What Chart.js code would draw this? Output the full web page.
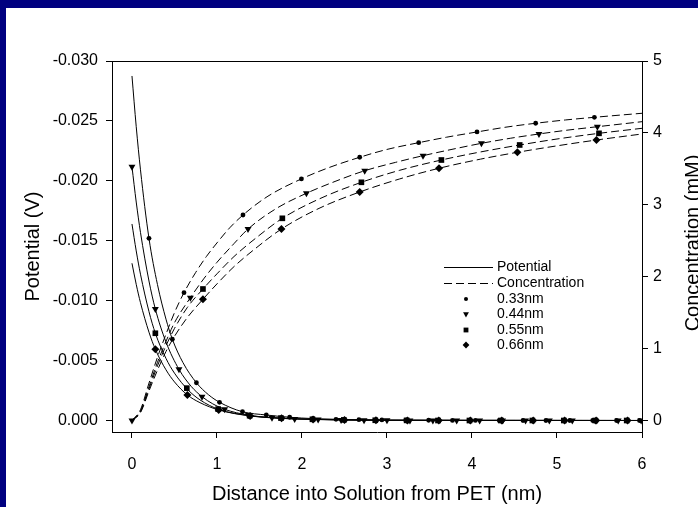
<!DOCTYPE html>
<html>
<head>
<meta charset="utf-8">
<script src="https://cdn.jsdelivr.net/npm/chart.js@4.4.1/dist/chart.umd.min.js"></script>
<style>
  html, body { margin: 0; padding: 0; background: #fff; overflow: hidden; }
  canvas { display: block; }
</style>
</head>
<body>
<canvas id="chart" width="698" height="507"></canvas>
<script>
// axis ticks
const xTicks = [0, 1, 2, 3, 4, 5, 6];
const potTicks = [-0.030, -0.025, -0.020, -0.015, -0.010, -0.005, 0];
const potTickLabels = ['-0.030', '-0.025', '-0.020', '-0.015', '-0.010', '-0.005', '0.000'];
const concTicks = [0, 1, 2, 3, 4, 5];
const sizeLabels = ['0.33nm', '0.44nm', '0.55nm', '0.66nm'];

// potential curves (V)
const potLineX33 = [0, 0.05, 0.1, 0.2, 0.3, 0.4, 0.475, 0.6, 0.758, 0.9, 1.03, 1.3, 1.58, 1.855, 2.13, 2.4, 2.7, 3.0, 4.0, 6.0];
const potLineY33 = [-0.02875, -0.02452, -0.02092, -0.0152, -0.01134, -0.00846, -0.00678, -0.00483, -0.00315, -0.00215, -0.00152, -0.00073, -0.00046, -0.00027, -0.00016, -0.0001, -0.00006, -0.00003, -0.00001, 0];
const potLineX44 = [0, 0.05, 0.1, 0.2, 0.275, 0.4, 0.553, 0.7, 0.824, 0.95, 1.09, 1.37, 1.647, 1.914, 2.2, 2.5, 3.0, 4.0, 6.0];
const potLineY44 = [-0.02118, -0.01823, -0.0157, -0.01164, -0.0093, -0.00655, -0.00427, -0.00282, -0.00199, -0.00139, -0.00093, -0.00045, -0.00023, -0.00013, -0.00008, -0.00005, -0.00002, -0.00001, 0];
const potLineX55 = [0, 0.05, 0.1, 0.2, 0.275, 0.4, 0.5, 0.66, 0.8, 1.02, 1.39, 1.76, 2.13, 2.5, 3.0, 4.0, 6.0];
const potLineY55 = [-0.0164, -0.01415, -0.01221, -0.00909, -0.00728, -0.00518, -0.00395, -0.00255, -0.00172, -0.00093, -0.0004, -0.0002, -0.0001, -0.00005, -0.00002, -0.00001, 0];
const potLineX66 = [0, 0.05, 0.1, 0.2, 0.275, 0.4, 0.5, 0.652, 0.8, 1.02, 1.39, 1.76, 2.13, 2.5, 3.0, 4.0, 6.0];
const potLineY66 = [-0.01312, -0.01136, -0.00983, -0.00737, -0.00594, -0.00423, -0.00322, -0.00213, -0.00149, -0.00088, -0.00038, -0.00018, -0.00009, -0.00004, -0.00002, -0.00001, 0];

// potential data points
const potMarkX33 = [0.2, 0.475, 0.758, 1.03, 1.3, 1.58, 1.855, 2.13, 2.4, 2.67, 2.94, 3.22, 3.49, 3.77, 4.04, 4.32, 4.6, 4.87, 5.15, 5.42, 5.7, 5.97];
const potMarkY33 = [-0.0152, -0.00678, -0.00315, -0.00152, -0.00073, -0.00046, -0.00027, -0.00016, -0.0001, -0.00007, -0.00005, -0.00003, -0.00002, -0.00001, -0.00001, 0, 0, 0, 0, 0, 0, 0];
const potMarkX44 = [0, 0.275, 0.553, 0.824, 1.09, 1.37, 1.647, 1.914, 2.19, 2.46, 2.73, 3.0, 3.27, 3.54, 3.82, 4.09, 4.36, 4.63, 4.91, 5.18, 5.45, 5.72, 5.99];
const potMarkY44 = [-0.02118, -0.0093, -0.00427, -0.00199, -0.00093, -0.00045, -0.00023, -0.00013, -0.00008, -0.00005, -0.00003, -0.00002, -0.00001, -0.00001, 0, 0, 0, 0, 0, 0, 0, 0, 0];
const potMarkX55 = [0.275, 0.645, 1.014, 1.384, 1.753, 2.123, 2.492, 2.862, 3.231, 3.6, 3.97, 4.34, 4.71, 5.08, 5.45, 5.82];
const potMarkY55 = [-0.00728, -0.0027, -0.00095, -0.0004, -0.0002, -0.0001, -0.00005, -0.00002, -0.00001, 0, 0, 0, 0, 0, 0, 0];
const potMarkX66 = [0.275, 0.652, 1.02, 1.39, 1.76, 2.13, 2.5, 2.87, 3.24, 3.61, 3.98, 4.35, 4.72, 5.09, 5.46, 5.83];
const potMarkY66 = [-0.00594, -0.00213, -0.00088, -0.00038, -0.00018, -0.00009, -0.00004, -0.00002, -0.00001, 0, 0, 0, 0, 0, 0, 0];

// concentration curves (mM)
const concLineX33 = [0, 0.1, 0.2, 0.3, 0.4, 0.5, 0.612, 0.75, 0.875, 1.0, 1.15, 1.306, 1.6, 1.993, 2.3, 2.679, 3.0, 3.373, 3.7, 4.059, 4.4, 4.749, 5.1, 5.44, 6.0];
const concLineY33 = [0, 0.15, 0.52, 0.88, 1.2, 1.5, 1.778, 2.06, 2.28, 2.47, 2.68, 2.858, 3.12, 3.36, 3.51, 3.661, 3.77, 3.864, 3.94, 4.013, 4.08, 4.134, 4.18, 4.217, 4.273];
const concLineX44 = [0, 0.1, 0.2, 0.3, 0.4, 0.5, 0.687, 0.85, 1.0, 1.2, 1.365, 1.7, 2.052, 2.4, 2.738, 3.1, 3.424, 3.8, 4.111, 4.45, 4.788, 5.1, 5.475, 6.0];
const concLineY44 = [0, 0.13, 0.47, 0.81, 1.1, 1.36, 1.708, 1.98, 2.2, 2.46, 2.663, 2.95, 3.16, 3.33, 3.474, 3.59, 3.683, 3.78, 3.855, 3.925, 3.985, 4.035, 4.086, 4.156];
const concLineX55 = [0, 0.1, 0.2, 0.3, 0.4, 0.5, 0.65, 0.835, 1.0, 1.2, 1.45, 1.769, 2.2, 2.699, 3.15, 3.64, 4.1, 4.561, 5.0, 5.494, 6.0];
const concLineY55 = [0, 0.12, 0.44, 0.76, 1.04, 1.28, 1.57, 1.829, 2.04, 2.28, 2.53, 2.812, 3.08, 3.313, 3.48, 3.623, 3.735, 3.832, 3.915, 3.994, 4.064];
const concLineX66 = [0, 0.1, 0.2, 0.3, 0.4, 0.5, 0.65, 0.835, 1.0, 1.2, 1.45, 1.758, 2.2, 2.679, 3.15, 3.612, 4.1, 4.534, 5.0, 5.464, 6.0];
const concLineY66 = [0, 0.11, 0.41, 0.7, 0.96, 1.17, 1.43, 1.686, 1.9, 2.14, 2.39, 2.663, 2.95, 3.178, 3.36, 3.508, 3.635, 3.73, 3.82, 3.901, 3.985];

// concentration data points
const concMarkX33 = [0.612, 1.306, 1.993, 2.679, 3.373, 4.059, 4.749, 5.44];
const concMarkY33 = [1.778, 2.858, 3.36, 3.661, 3.864, 4.013, 4.134, 4.217];
const concMarkX44 = [0, 0.687, 1.365, 2.052, 2.738, 3.424, 4.111, 4.788, 5.475];
const concMarkY44 = [0, 1.708, 2.663, 3.16, 3.474, 3.683, 3.855, 3.985, 4.086];
const concMarkX55 = [0.835, 1.769, 2.699, 3.64, 4.561, 5.494];
const concMarkY55 = [1.829, 2.812, 3.313, 3.623, 3.832, 3.994];
const concMarkX66 = [0.835, 1.758, 2.679, 3.612, 4.534, 5.464];
const concMarkY66 = [1.686, 2.663, 3.178, 3.508, 3.73, 3.901];

const FONT = '"Liberation Sans", Arial, Helvetica, sans-serif';
const markerStyles = [
    { pointStyle: 'circle', radius: 2.4, rotation: 0 },
    { pointStyle: 'triangle', radius: 4, rotation: 180 },
    { pointStyle: 'rect', radius: 4, rotation: 0 },
    { pointStyle: 'rectRot', radius: 4, rotation: 0 }
];

function pts(xs, ys) {
    return xs.map((x, i) => ({ x, y: ys[i] }));
}

function lineSet(xs, ys, axis, dashed) {
    return {
        data: pts(xs, ys),
        yAxisID: axis,
        borderColor: '#000',
        borderWidth: 1,
        borderDash: dashed ? [8, 4] : [],
        pointRadius: 0,
        fill: false,
        cubicInterpolationMode: 'monotone',
        order: 1
    };
}

function markSet(xs, ys, axis, k) {
    const m = markerStyles[k];
    return {
        data: pts(xs, ys),
        yAxisID: axis,
        showLine: false,
        pointStyle: m.pointStyle,
        pointRadius: m.radius,
        pointRotation: m.rotation,
        pointBackgroundColor: '#000',
        pointBorderColor: '#000',
        pointBorderWidth: 0,
        order: 0
    };
}

const datasets = [
    markSet(potMarkX33, potMarkY33, 'y', 0),
    markSet(potMarkX44, potMarkY44, 'y', 1),
    markSet(potMarkX55, potMarkY55, 'y', 2),
    markSet(potMarkX66, potMarkY66, 'y', 3),
    markSet(concMarkX33, concMarkY33, 'y2', 0),
    markSet(concMarkX44, concMarkY44, 'y2', 1),
    markSet(concMarkX55, concMarkY55, 'y2', 2),
    markSet(concMarkX66, concMarkY66, 'y2', 3),
    lineSet(potLineX33, potLineY33, 'y', false),
    lineSet(potLineX44, potLineY44, 'y', false),
    lineSet(potLineX55, potLineY55, 'y', false),
    lineSet(potLineX66, potLineY66, 'y', false),
    lineSet(concLineX33, concLineY33, 'y2', true),
    lineSet(concLineX44, concLineY44, 'y2', true),
    lineSet(concLineX55, concLineY55, 'y2', true),
    lineSet(concLineX66, concLineY66, 'y2', true)
];

// white slide with navy band on top and left
const framePlugin = {
    id: 'frame',
    beforeDraw(chart) {
        const { ctx, width, height } = chart;
        ctx.save();
        ctx.fillStyle = '#fff';
        ctx.fillRect(0, 0, width, height);
        ctx.fillStyle = '#000080';
        ctx.fillRect(0, 0, width, 8);
        ctx.fillRect(0, 0, 6, height);
        ctx.restore();
    },
    afterDraw(chart) {
        const { ctx, chartArea } = chart;
        ctx.save();
        ctx.strokeStyle = '#000';
        ctx.lineWidth = 1;
        const y = Math.round(chartArea.top) + 0.5;
        ctx.beginPath();
        ctx.moveTo(chartArea.left, y);
        ctx.lineTo(chartArea.right, y);
        ctx.stroke();

        // right axis title, reading bottom to top, cut by the page edge
        ctx.fillStyle = '#000';
        ctx.font = '20px ' + FONT;
        ctx.textAlign = 'center';
        ctx.textBaseline = 'alphabetic';
        ctx.translate(699, 243);
        ctx.rotate(-Math.PI / 2);
        ctx.fillText('Concentration (mM)', 0, 0);
        ctx.restore();
    }
};

const legendPlugin = {
    id: 'insideLegend',
    afterDraw(chart) {
        const ctx = chart.ctx;
        const rows = [267, 283, 299, 314, 330, 345];
        ctx.save();
        ctx.strokeStyle = '#000';
        ctx.fillStyle = '#000';
        ctx.lineWidth = 1;
        ctx.font = '14px ' + FONT;
        ctx.textBaseline = 'middle';
        ctx.textAlign = 'left';

        ctx.beginPath();
        ctx.moveTo(444, rows[0] + 0.5);
        ctx.lineTo(493, rows[0] + 0.5);
        ctx.stroke();
        ctx.fillText('Potential', 497, rows[0]);

        ctx.setLineDash([8, 4]);
        ctx.beginPath();
        ctx.moveTo(444, rows[1] + 0.5);
        ctx.lineTo(493, rows[1] + 0.5);
        ctx.stroke();
        ctx.setLineDash([]);
        ctx.fillText('Concentration', 497, rows[1]);

        sizeLabels.forEach((label, i) => {
            const m = markerStyles[i];
            const y = rows[i + 2];
            Chart.helpers.drawPoint(ctx, {
                pointStyle: m.pointStyle,
                radius: m.radius * 0.85,
                rotation: m.rotation,
                borderWidth: 0
            }, 466, y);
            ctx.fillStyle = '#000';
            ctx.fillText(label, 497, y);
        });
        ctx.restore();
    }
};

const axisGrid = {
    display: true,
    drawOnChartArea: false,
    drawTicks: true,
    tickLength: 6,
    color: '#000',
    lineWidth: 1
};
const axisBorder = { display: true, color: '#000', width: 1 };
const tickFont = { family: FONT, size: 16 };

new Chart(document.getElementById('chart'), {
    type: 'line',
    data: { datasets },
    options: {
        responsive: false,
        animation: false,
        devicePixelRatio: 1,
        layout: { padding: { top: 61, left: 0, right: 0, bottom: 0 } },
        plugins: {
            legend: { display: false },
            tooltip: { enabled: false }
        },
        scales: {
            x: {
                type: 'linear',
                position: 'bottom',
                min: -0.235,
                max: 6,
                grid: axisGrid,
                border: axisBorder,
                afterBuildTicks: s => { s.ticks = xTicks.map(v => ({ value: v })); },
                afterFit: s => { s.height = 75; },
                ticks: {
                    color: '#000',
                    font: tickFont,
                    padding: 17,
                    autoSkip: false,
                    maxRotation: 0,
                    callback: v => String(v)
                },
                title: {
                    display: true,
                    text: 'Distance into Solution from PET (nm)',
                    color: '#000',
                    font: { family: FONT, size: 20, lineHeight: 1 },
                    padding: { top: 0, bottom: 3 }
                }
            },
            y: {
                type: 'linear',
                position: 'left',
                reverse: true,
                min: -0.030,
                max: 0.00096,
                grid: axisGrid,
                border: axisBorder,
                afterBuildTicks: s => { s.ticks = potTicks.map(v => ({ value: v })); },
                afterFit: s => { s.width = 112; },
                ticks: {
                    color: '#000',
                    font: tickFont,
                    padding: 8,
                    autoSkip: false,
                    callback: (v, i) => potTickLabels[i]
                },
                title: {
                    display: true,
                    text: 'Potential (V)',
                    color: '#000',
                    font: { family: FONT, size: 20, lineHeight: 1 },
                    padding: { top: 23, bottom: 0 }
                }
            },
            y2: {
                type: 'linear',
                position: 'right',
                min: -0.16,
                max: 5,
                grid: axisGrid,
                border: axisBorder,
                afterBuildTicks: s => { s.ticks = concTicks.map(v => ({ value: v })); },
                afterFit: s => { s.width = 56; },
                ticks: {
                    color: '#000',
                    font: tickFont,
                    padding: 5,
                    autoSkip: false,
                    callback: v => String(v)
                }
            }
        }
    },
    plugins: [framePlugin, legendPlugin]
});
</script>
</body>
</html>
